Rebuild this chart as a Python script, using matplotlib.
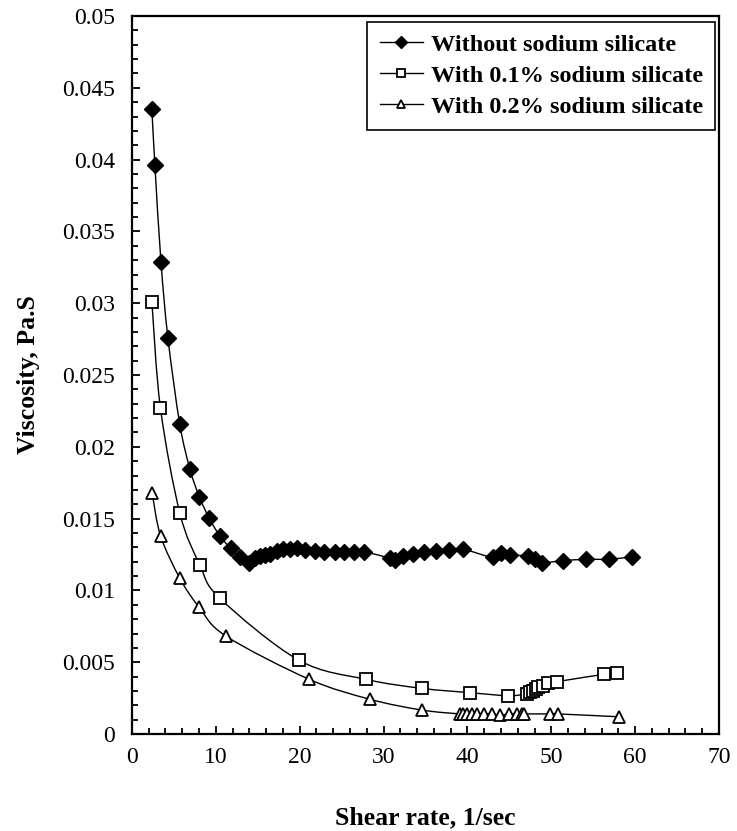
import numpy as np
import matplotlib
matplotlib.use('Agg')
import matplotlib.pyplot as plt
from matplotlib.path import Path
from matplotlib.patches import PathPatch
from matplotlib.lines import Line2D
from matplotlib.ticker import MultipleLocator, FuncFormatter

# datos
shear_a = [2.38, 2.74, 3.46, 4.29, 5.7, 6.92, 8.03, 9.22, 10.49, 11.77, 12.88, 13.99,
           14.67, 15.26, 15.86, 16.46, 17.25, 18.04, 18.84, 19.64, 20.63, 21.82, 22.93,
           24.21, 25.32, 26.47, 27.67, 30.77, 31.36, 32.35, 33.55, 34.82, 36.25, 37.76,
           39.43, 43.01, 43.97, 45.07, 47.18, 48.06, 48.93, 51.36, 54.14, 56.92, 59.66]
visc_a = [0.0435, 0.0396, 0.0329, 0.0276, 0.0216, 0.01845, 0.01653, 0.01502, 0.01379,
          0.01293, 0.01235, 0.01193, 0.01224, 0.0124, 0.01247, 0.01253, 0.01276, 0.01286,
          0.01286, 0.01293, 0.01281, 0.01276, 0.0127, 0.0127, 0.0127, 0.0127, 0.0127,
          0.01224, 0.01212, 0.0124, 0.01253, 0.01265, 0.01276, 0.01281, 0.01288, 0.0123,
          0.01263, 0.01247, 0.0124, 0.01217, 0.01193, 0.01207, 0.01217, 0.01217, 0.01235]

shear_b = [2.38, 3.4, 5.72, 8.11, 10.49, 19.88, 27.87, 34.55, 40.3, 44.8, 47.07, 47.46,
           47.78, 48.13, 48.45, 48.97, 49.64, 50.63, 56.28, 57.8]
visc_b = [0.0301, 0.0227, 0.01537, 0.01177, 0.00945, 0.00515, 0.00381, 0.00318, 0.00288,
          0.00267, 0.00279, 0.0029, 0.00302, 0.00313, 0.00325, 0.00336, 0.00353, 0.00364,
          0.00416, 0.00423]

shear_c = [2.42, 3.42, 5.72, 8.03, 11.21, 21.14, 28.38, 34.55, 39.1, 39.5, 40.0, 40.5,
           41.1, 42.0, 42.9, 43.9, 44.9, 45.9, 46.5, 46.7, 49.8, 50.8, 58.1]
visc_c = [0.01676, 0.01379, 0.01084, 0.00882, 0.00682, 0.00381, 0.00242, 0.00167, 0.0014,
          0.0014, 0.0014, 0.0014, 0.0014, 0.0014, 0.0014, 0.0013, 0.0014, 0.0014, 0.0014,
          0.0014, 0.0014, 0.0014, 0.0012]

etiquetas = ['Without sodium silicate', 'With 0.1% sodium silicate',
             'With 0.2% sodium silicate']


def curva_suave(xs, ys):
    # linea suavizada tipo Excel (Bezier por los puntos)
    p = np.column_stack([xs, ys])
    n = len(p)
    verts = [p[0]]
    codes = [Path.MOVETO]
    for i in range(n - 1):
        p0 = p[max(i - 1, 0)]
        p1 = p[i]
        p2 = p[i + 1]
        p3 = p[min(i + 2, n - 1)]
        verts += [p1 + (p2 - p0) / 6, p2 - (p3 - p1) / 6, p2]
        codes += [Path.CURVE4] * 3
    return Path(verts, codes)


plt.rcParams['font.family'] = ['Liberation Serif', 'DejaVu Serif']

fig = plt.figure(figsize=(7.37, 8.31), dpi=100)
ax = fig.add_axes([0.179, 0.1167, 0.7966, 0.864])

estilos = [dict(marker='D', ms=8.5, mfc='black', mec='black'),
           dict(marker='s', ms=8.5, mfc='white', mec='black', mew=1.3),
           dict(marker='^', ms=9, mfc='white', mec='black', mew=1.3)]

series = [(shear_a, visc_a), (shear_b, visc_b), (shear_c, visc_c)]
handles = []
for (xs, ys), st, lab in zip(series, estilos, etiquetas):
    ax.add_patch(PathPatch(curva_suave(xs, ys), fill=False, lw=1.0, ec='black', zorder=2))
    ax.plot(xs, ys, ls='none', zorder=3, **st)
    hst = dict(st)
    hst['ms'] = 6
    handles.append(Line2D([], [], color='black', lw=1.0, **hst))

ax.set_xlim(0, 70)
ax.set_ylim(0, 0.05)
ax.xaxis.set_major_locator(MultipleLocator(10))
ax.xaxis.set_minor_locator(MultipleLocator(2))
ax.yaxis.set_major_locator(MultipleLocator(0.005))
ax.yaxis.set_minor_locator(MultipleLocator(0.001))
ax.yaxis.set_major_formatter(FuncFormatter(lambda v, p: '{:g}'.format(round(v, 4))))
ax.tick_params(which='both', direction='in', labelsize=17, width=1.3)
ax.tick_params(which='major', length=6)
ax.tick_params(which='minor', length=4)
ax.tick_params(axis='y', pad=12)
ax.tick_params(axis='x', pad=9)
for s in ax.spines.values():
    s.set_linewidth(1.6)

ax.set_xlabel('Shear rate, 1/sec', fontsize=18.5, fontweight='bold', labelpad=28)
ax.set_ylabel('Viscosity, Pa.S', fontsize=18.5, fontweight='bold', labelpad=16)

leg = ax.legend(handles, etiquetas, loc='upper right', bbox_to_anchor=(0.993, 0.992),
                prop={'weight': 'bold', 'size': 17.5}, fancybox=False,
                edgecolor='black', framealpha=1, handlelength=1.8, borderpad=0.5,
                borderaxespad=0, labelspacing=0.37, handletextpad=0.3)
leg.get_frame().set_linewidth(1.2)

plt.savefig('out.png', dpi=100)
